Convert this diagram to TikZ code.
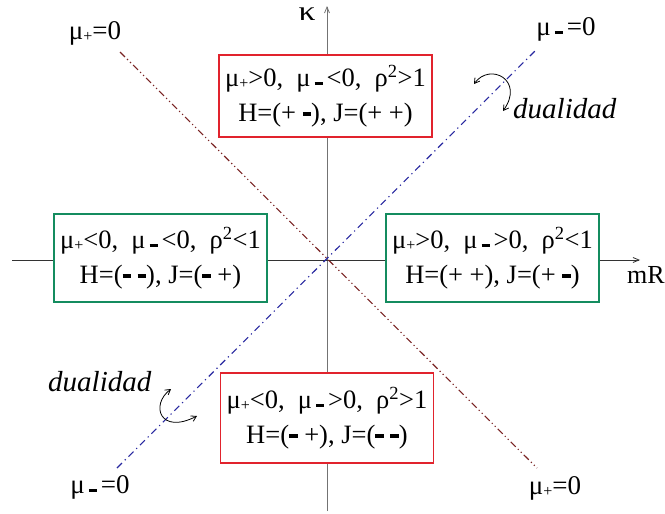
\documentclass[tikz,border=0pt]{standalone}
\usepackage{fontspec}
\setmainfont{Liberation Serif}
\usetikzlibrary{arrows.meta}
\definecolor{boxred}{RGB}{225,35,45}
\definecolor{boxgreen}{RGB}{20,140,95}
\definecolor{linebrown}{RGB}{122,36,36}
\definecolor{lineblue}{RGB}{40,40,160}
\newcommand{\bd}{\rule[0.21em]{0.32em}{0.13em}}
\newcommand{\mup}{μ\raisebox{-0.1em}{\fontsize{16}{16}\selectfont +}}
\newcommand{\mum}{μ\hspace{0.15em}\rule[0.04em]{0.3em}{0.12em}\hspace{0.15em}}
\tikzset{
  regbox/.style={draw, fill=white, line width=1.2pt, inner sep=0pt,
    minimum width=213pt, align=center,
    font=\fontsize{26.5}{35}\selectfont},
  lbl/.style={font=\fontsize{27}{30}\selectfont, inner sep=0pt, anchor=base},
  dual/.style={font=\fontsize{29}{32}\selectfont\itshape, inner sep=0pt, anchor=base west},
  axisarrow/.style={-{Straight Barb[length=6pt,width=5pt]}, line width=0.8pt},
  brownline/.style={linebrown, line width=1.1pt,
    dash pattern=on 7pt off 3pt on 1.2pt off 3pt on 1.2pt off 3pt},
  blueline/.style={lineblue, line width=1.1pt,
    dash pattern=on 7pt off 4pt on 1.2pt off 4pt},
  turn/.style={{Straight Barb[length=5pt,width=6pt]}-{Straight Barb[length=5pt,width=6pt]}, line width=0.8pt}
}
\begin{document}
\begin{tikzpicture}[x=1pt,y=-1pt]
\useasboundingbox (0,0) rectangle (665,514);
% axis end points
\coordinate (vb) at (327,511);
\coordinate (vt) at (327,6);
\coordinate (hl) at (12,260);
\coordinate (hr) at (640,260);
\draw[axisarrow, black!55] (vb) -- (vt);
\draw[axisarrow, black!80] (hl) -- (hr);
% diagonals
\coordinate (b1) at (120,52);
\coordinate (b2) at (537,468);
\coordinate (u1) at (117,468);
\coordinate (u2) at (537,49);
\draw[brownline] (b1) -- (b2);
\draw[blueline] (u1) -- (u2);
% boxes
\node[regbox, draw=boxred, minimum height=82pt] (top) at (325.5,96)
  {\mup>0,\ \ \mum<0,\ \ ρ\textsuperscript{2}>1\\H=(+ \bd), J=(+ +)};
\node[regbox, draw=boxgreen, minimum height=88pt] (left) at (160.5,258)
  {\mup<0,\ \ \mum<0,\ \ ρ\textsuperscript{2}<1\\H=(\bd{} \bd), J=(\bd{} +)};
\node[regbox, draw=boxgreen, minimum height=88pt] (right) at (492.5,258)
  {\mup>0,\ \ \mum>0,\ \ ρ\textsuperscript{2}<1\\H=(+ +), J=(+ \bd)};
\node[regbox, draw=boxred, minimum height=90pt] (bottom) at (327,418)
  {\mup<0,\ \ \mum>0,\ \ ρ\textsuperscript{2}>1\\H=(\bd{} +), J=(\bd{} \bd)};
% axis labels
\node[font=\fontsize{24}{26}\selectfont, inner sep=0pt] (kappa) at (307,14) {\scalebox{1.4}[1.15]{κ}};
\node[font=\fontsize{26}{28}\selectfont, inner sep=0pt, anchor=base] (mr) at (646,283) {mR};
% line labels
\node[lbl] (lpt) at (95,39) {\mup=0};
\node[lbl] (lmt) at (566,35) {\mum=0};
\node[lbl] (lmb) at (100,493) {\mum=0};
\node[lbl] (lpb) at (555,494) {\mup=0};
% dualidad
\node[dual] (d1) at (513,118) {dualidad};
\node[dual] (d2) at (48,391) {dualidad};
\coordinate (a1s) at (474,84);
\coordinate (a1e) at (503,111);
\coordinate (a2s) at (171,389);
\coordinate (a2e) at (197,416);
\draw[turn] (a1s) .. controls (490,62) and (525,80) .. (a1e);
\draw[turn] (a2s) .. controls (150,405) and (160,435) .. (a2e);
\end{tikzpicture}
\end{document}
